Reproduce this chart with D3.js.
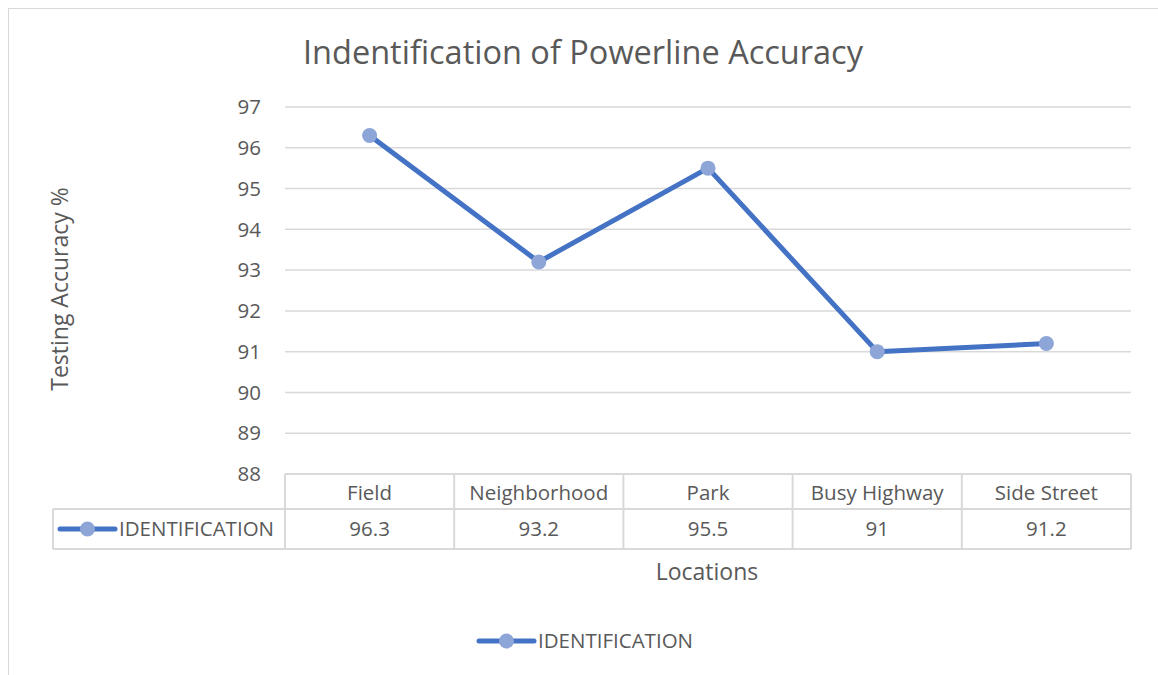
<!DOCTYPE html>
<html>
<head>
<meta charset="utf-8">
<script src="https://cdn.jsdelivr.net/npm/d3@7"></script>
<style>
  body { margin: 0; background: #fff; }
  svg text { font-family: "Open Sans", sans-serif; fill: #595959; }
</style>
</head>
<body>
<div id="chart"></div>
<script>
const categories = ["Field", "Neighborhood", "Park", "Busy Highway", "Side Street"];
const values = [96.3, 93.2, 95.5, 91, 91.2];
const valueLabels = ["96.3", "93.2", "95.5", "91", "91.2"];
const yTicks = [88, 89, 90, 91, 92, 93, 94, 95, 96, 97];
const seriesName = "IDENTIFICATION";

const width = 1158, height = 675;
const lineColor = "#4472C4", markerColor = "#8EA5D8", gridColor = "#D9D9D9";

const svg = d3.select("#chart").append("svg")
    .attr("width", width)
    .attr("height", height);

// outer chart border
svg.append("rect")
    .attr("x", 8.5).attr("y", 8.5)
    .attr("width", 1200).attr("height", 700)
    .attr("fill", "none")
    .attr("stroke", "#D9D9D9");

const plot = { left: 285, right: 1131, top: 107, bottom: 474 };

const x = d3.scaleBand()
    .domain(categories)
    .range([plot.left, plot.right]);

const y = d3.scaleLinear()
    .domain([88, 97])
    .range([plot.bottom, plot.top]);

// gridlines
svg.append("g")
    .selectAll("line")
    .data(yTicks)
    .join("line")
    .attr("x1", plot.left).attr("x2", plot.right)
    .attr("y1", d => y(d)).attr("y2", d => y(d))
    .attr("stroke", gridColor)
    .attr("stroke-width", 1.5);

// y tick labels
svg.append("g")
    .selectAll("text")
    .data(yTicks)
    .join("text")
    .attr("x", 261)
    .attr("y", d => y(d))
    .attr("dy", "0.35em")
    .attr("text-anchor", "end")
    .style("font-size", "20.5px")
    .text(d => d);

// y axis title
svg.append("text")
    .attr("transform", `translate(68, 289) rotate(-90)`)
    .attr("text-anchor", "middle")
    .style("font-size", "23px")
    .text("Testing Accuracy %");

// title
svg.append("text")
    .attr("x", 583).attr("y", 64)
    .attr("text-anchor", "middle")
    .style("font-size", "32.5px")
    .text("Indentification of Powerline Accuracy");

// line
const line = d3.line()
    .x((d, i) => x(categories[i]) + x.bandwidth() / 2)
    .y(d => y(d));

svg.append("path")
    .datum(values)
    .attr("d", line)
    .attr("fill", "none")
    .attr("stroke", lineColor)
    .attr("stroke-width", 5)
    .attr("stroke-linejoin", "round");

svg.append("g")
    .selectAll("circle")
    .data(values)
    .join("circle")
    .attr("cx", (d, i) => x(categories[i]) + x.bandwidth() / 2)
    .attr("cy", d => y(d))
    .attr("r", 7.5)
    .attr("fill", markerColor);

// data table
const tableTop = plot.bottom, headerBottom = 509, tableBottom = 549, tableLeft = 53;
const tbl = svg.append("g")
    .attr("stroke", gridColor)
    .attr("stroke-width", 2)
    .attr("fill", "none");

tbl.append("line").attr("x1", plot.left).attr("x2", plot.right).attr("y1", tableTop).attr("y2", tableTop);
tbl.append("line").attr("x1", tableLeft).attr("x2", plot.right).attr("y1", headerBottom).attr("y2", headerBottom);
tbl.append("line").attr("x1", tableLeft).attr("x2", plot.right).attr("y1", tableBottom).attr("y2", tableBottom);
tbl.append("line").attr("x1", tableLeft).attr("x2", tableLeft).attr("y1", headerBottom).attr("y2", tableBottom);
tbl.selectAll(".vdiv")
    .data(categories.map(c => x(c)).concat([plot.right]))
    .join("line")
    .attr("x1", d => d).attr("x2", d => d)
    .attr("y1", tableTop).attr("y2", tableBottom);

svg.append("g")
    .selectAll("text")
    .data(categories)
    .join("text")
    .attr("x", d => x(d) + x.bandwidth() / 2)
    .attr("y", (tableTop + headerBottom) / 2 + 1)
    .attr("dy", "0.35em")
    .attr("text-anchor", "middle")
    .style("font-size", "20.5px")
    .text(d => d);

svg.append("g")
    .selectAll("text")
    .data(valueLabels)
    .join("text")
    .attr("x", (d, i) => x(categories[i]) + x.bandwidth() / 2)
    .attr("y", (headerBottom + tableBottom) / 2)
    .attr("dy", "0.35em")
    .attr("text-anchor", "middle")
    .style("font-size", "20.5px")
    .text(d => d);

// legend key inside the table
function legendKey(g, x0, cy) {
    g.append("line")
        .attr("x1", x0).attr("x2", x0 + 55)
        .attr("y1", cy).attr("y2", cy)
        .attr("stroke", lineColor)
        .attr("stroke-width", 5)
        .attr("stroke-linecap", "round");
    g.append("circle")
        .attr("cx", x0 + 27.5).attr("cy", cy)
        .attr("r", 7.5)
        .attr("fill", markerColor);
    g.append("text")
        .attr("x", x0 + 59).attr("y", cy)
        .attr("dy", "0.35em")
        .style("font-size", "20.5px")
        .text(seriesName);
}
legendKey(svg.append("g"), 60, (headerBottom + tableBottom) / 2);

// x axis title
svg.append("text")
    .attr("x", 707).attr("y", 572)
    .attr("dy", "0.35em")
    .attr("text-anchor", "middle")
    .style("font-size", "23px")
    .text("Locations");

// bottom legend
legendKey(svg.append("g"), 479, 641);
</script>
</body>
</html>
